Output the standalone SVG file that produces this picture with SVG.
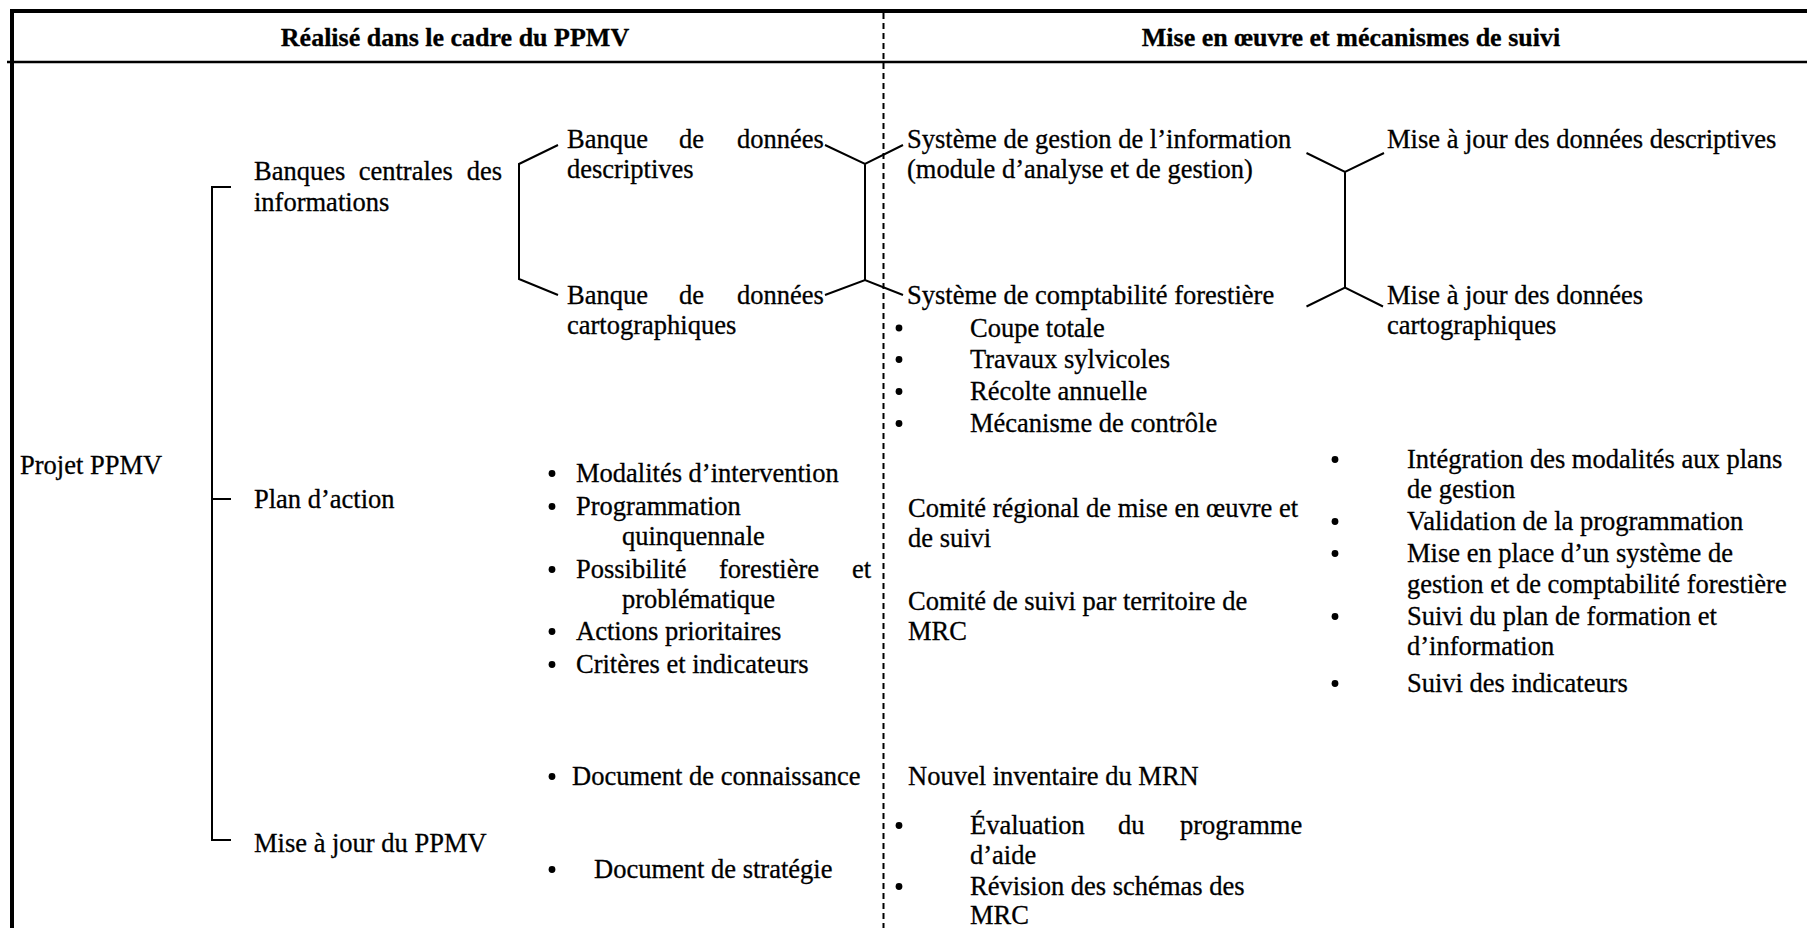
<svg xmlns="http://www.w3.org/2000/svg" width="1807" height="928" viewBox="0 0 1807 928">
<style>
text{font-family:"Liberation Serif","Times New Roman",serif;font-size:26.5px;fill:#000;stroke:#000;stroke-width:0.3px}
.h{font-weight:bold;text-anchor:middle;font-size:26px}
.c{fill:none;stroke:#000;stroke-width:2}
.f{stroke:#000;fill:none}
circle{fill:#000;r:3.4px}
</style>
<rect width="1807" height="928" fill="#fff"/>
<g id="frame">
<line class="f" x1="10" y1="11" x2="1807" y2="11" stroke-width="4"/>
<line class="f" x1="7" y1="62" x2="1807" y2="62" stroke-width="2.5"/>
<line class="f" x1="12" y1="9" x2="12" y2="928" stroke-width="4"/>
<line class="f" x1="883.5" y1="13" x2="883.5" y2="928" stroke-width="2" stroke-dasharray="6 4"/>
<text class="h" x="455" y="46">Réalisé dans le cadre du PPMV</text>
<text class="h" x="1351" y="46">Mise en œuvre et mécanismes de suivi</text>
</g>
<g id="connectors">
<path class="c" d="M231,187H212V840H231M212,499H231"/>
<path class="c" d="M558,145L519,164V279L558,295"/>
<path class="c" d="M825,145L865,164L903,145M865,164V280M825,295L865,280L903,295"/>
<path class="c" d="M1306.5,153L1345,172L1384,153M1345,172V287.5M1306.5,306.5L1345,287.5L1383,306.5"/>
</g>
<g id="projet"><text x="20" y="474">Projet PPMV</text></g>
<g id="banques-centrales"><text y="180"><tspan x="254">Banques</tspan><tspan x="358.7">centrales</tspan><tspan x="466.7">des</tspan></text><text x="254" y="211">informations</text></g>
<g id="plan-action"><text x="254" y="508">Plan d’action</text></g>
<g id="maj-ppmv"><text x="254" y="852">Mise à jour du PPMV</text></g>
<g id="bd-descriptives"><text y="148"><tspan x="567">Banque</tspan><tspan x="679">de</tspan><tspan x="737">données</tspan></text><text x="567" y="178">descriptives</text></g>
<g id="bd-cartographiques"><text y="304"><tspan x="567">Banque</tspan><tspan x="679">de</tspan><tspan x="737">données</tspan></text><text x="567" y="334">cartographiques</text></g>
<g id="plan-items">
<circle cx="552" cy="473.5"/><text x="576" y="482">Modalités d’intervention</text>
<circle cx="552" cy="506.5"/><text x="576" y="515">Programmation</text>
<text x="622" y="545">quinquennale</text>
<circle cx="552" cy="569.5"/><text y="578"><tspan x="576">Possibilité</tspan><tspan x="719">forestière</tspan><tspan x="852">et</tspan></text>
<text x="622" y="608">problématique</text>
<circle cx="552" cy="631.5"/><text x="576" y="640">Actions prioritaires</text>
<circle cx="552" cy="664.5"/><text x="576" y="673">Critères et indicateurs</text>
</g>
<g id="maj-items">
<circle cx="552" cy="776.5"/><text x="572" y="785">Document de connaissance</text>
<circle cx="552" cy="869.5"/><text x="594" y="878">Document de stratégie</text>
</g>
<g id="sys-gestion"><text x="907" y="148">Système de gestion de l’information</text><text x="907" y="178">(module d’analyse et de gestion)</text></g>
<g id="sys-comptabilite"><text x="907" y="304">Système de comptabilité forestière</text>
<circle cx="899" cy="328"/><text x="970" y="336.5">Coupe totale</text>
<circle cx="899" cy="359.5"/><text x="970" y="368">Travaux sylvicoles</text>
<circle cx="899" cy="391.5"/><text x="970" y="400">Récolte annuelle</text>
<circle cx="899" cy="423.5"/><text x="970" y="432">Mécanisme de contrôle</text>
</g>
<g id="comite-regional"><text x="908" y="517">Comité régional de mise en œuvre et</text><text x="908" y="547">de suivi</text></g>
<g id="comite-mrc"><text x="908" y="610">Comité de suivi par territoire de</text><text x="908" y="640">MRC</text></g>
<g id="inventaire"><text x="908" y="785">Nouvel inventaire du MRN</text>
<circle cx="899" cy="825.5"/><text y="834"><tspan x="970">Évaluation</tspan><tspan x="1118">du</tspan><tspan x="1180">programme</tspan></text>
<text x="970" y="864">d’aide</text>
<circle cx="899" cy="886.5"/><text x="970" y="895">Révision des schémas des</text>
<text x="970" y="924">MRC</text>
</g>
<g id="maj-descriptives"><text x="1387" y="148">Mise à jour des données descriptives</text></g>
<g id="maj-cartographiques"><text x="1387" y="304">Mise à jour des données</text><text x="1387" y="334">cartographiques</text></g>
<g id="suivi-items">
<circle cx="1335" cy="459.5"/><text x="1407" y="468">Intégration des modalités aux plans</text>
<text x="1407" y="498">de gestion</text>
<circle cx="1335" cy="521.5"/><text x="1407" y="530">Validation de la programmation</text>
<circle cx="1335" cy="553.5"/><text x="1407" y="562">Mise en place d’un système de</text>
<text x="1407" y="593">gestion et de comptabilité forestière</text>
<circle cx="1335" cy="616.5"/><text x="1407" y="625">Suivi du plan de formation et</text>
<text x="1407" y="655">d’information</text>
<circle cx="1335" cy="683.5"/><text x="1407" y="692">Suivi des indicateurs</text>
</g>
</svg>
